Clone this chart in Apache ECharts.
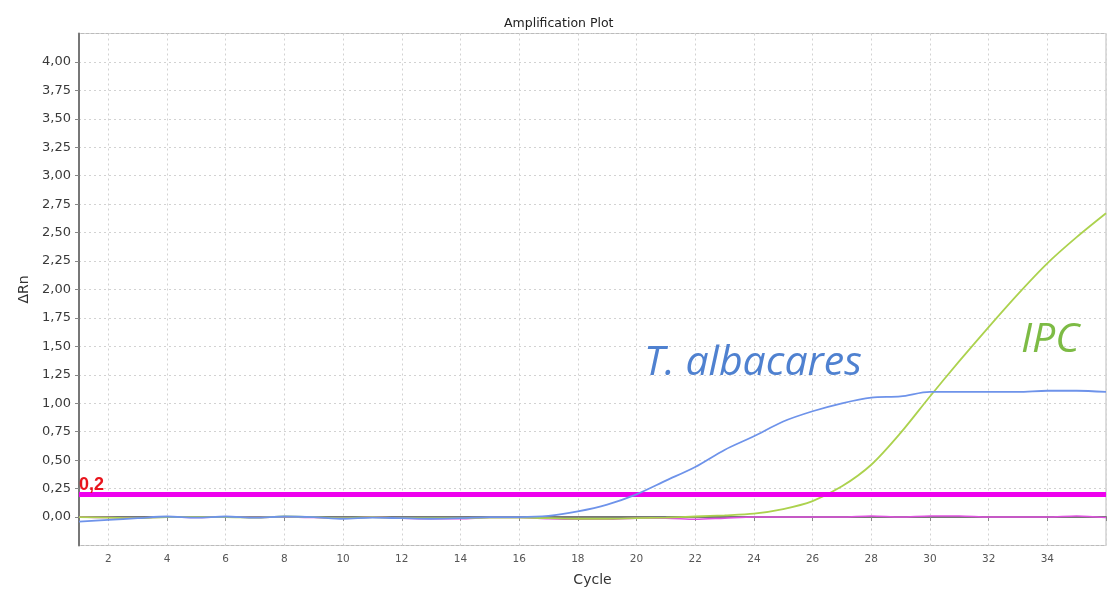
<!DOCTYPE html>
<html><head><meta charset="utf-8">
<script src="https://cdn.jsdelivr.net/npm/echarts@6/dist/echarts.min.js"></script>
<style>html,body{margin:0;padding:0;background:#fff;overflow:hidden}#c{width:1111px;height:591px}</style>
</head><body><div id="c"></div>
<script>
const cycles = ['1','2','3','4','5','6','7','8','9','10','11','12','13','14','15','16','17','18','19','20','21','22','23','24','25','26','27','28','29','30','31','32','33','34','35','36'];
const albacares = [-0.04,-0.025,-0.01,0.005,-0.005,0.005,-0.005,0.005,0,-0.015,-0.005,-0.01,-0.015,-0.01,0,0,0.01,0.05,0.11,0.2,0.32,0.44,0.59,0.71,0.84,0.93,1.0,1.05,1.06,1.1,1.1,1.1,1.1,1.11,1.11,1.1];
const ipc = [0,-0.005,-0.01,0,0,0,-0.005,0.005,0,-0.01,0,-0.01,-0.01,-0.01,-0.005,-0.005,-0.01,-0.015,-0.015,-0.01,-0.005,0.005,0.015,0.03,0.07,0.14,0.27,0.46,0.74,1.06,1.37,1.67,1.96,2.23,2.46,2.67];
const ntc = [0,-0.005,-0.01,0,-0.005,0,-0.005,0,-0.005,-0.01,0,-0.01,-0.015,-0.015,-0.005,-0.005,-0.015,-0.02,-0.02,-0.01,-0.01,-0.02,-0.01,0,0,0,0,0.01,0,0.01,0.01,0,0,0,0.01,-0.005];
const threshold = 0.2;
const thresholdLabel = '0,2';

const chart = echarts.init(document.getElementById('c'));
const evenOnly = (i, v) => Number(v) % 2 === 0;
const evenLabel = (i, v) => Number(v) % 2 === 0 && i < cycles.length - 1;
const F = '"DejaVu Sans", Verdana, sans-serif';
chart.setOption({
  animation: false,
  title: { text: 'Amplification Plot', left: 499, top: 12,
    textStyle: { fontFamily: F, fontSize: 12.5, fontWeight: 'normal', color: '#222' } },
  grid: { left: 79, right: 5, top: 33.5, bottom: 45.5, containLabel: false, outerBoundsMode: 'none',
    show: true, borderColor: '#bbb', borderWidth: 1 },
  xAxis: {
    type: 'category', data: cycles, boundaryGap: false,
    name: 'Cycle', nameLocation: 'middle', nameGap: 28,
    nameTextStyle: { fontFamily: F, fontSize: 14, color: '#333' },
    axisLine: { lineStyle: { color: '#777', width: 2 } },
    axisTick: { show: true, interval: evenOnly, alignWithLabel: true, length: 4, lineStyle: { color: '#888' } },
    axisLabel: { interval: evenLabel, color: '#555', fontFamily: F, fontSize: 10.5, margin: 8 },
    splitLine: { show: true, interval: evenOnly, lineStyle: { color: '#d2d2d2', type: [2, 3] } }
  },
  yAxis: {
    type: 'value', min: -0.25, max: 4.25, interval: 0.25,
    name: 'ΔRn', nameLocation: 'middle', nameGap: 40,
    nameTextStyle: { fontFamily: F, fontSize: 14, color: '#333' },
    axisLine: { show: true, lineStyle: { color: '#777', width: 2 } },
    axisTick: { show: true, length: 4, lineStyle: { color: '#888' } },
    axisLabel: { showMinLabel: false, showMaxLabel: false, color: '#3a3a3a',
      fontFamily: F, fontSize: 13, margin: 8,
      formatter: v => v.toFixed(2).replace('.', ',') },
    splitLine: { show: true, lineStyle: { color: '#d2d2d2', type: [2, 3] } }
  },
  series: [
    { name: 'NTC', type: 'line', data: ntc, smooth: 0.3, showSymbol: false,
      lineStyle: { color: '#e050e0', width: 1.5 }, z: 3 },
    { name: 'IPC', type: 'line', data: ipc, smooth: 0.3, showSymbol: false,
      lineStyle: { color: '#acd24e', width: 1.8 }, z: 4 },
    { name: 'T. albacares', type: 'line', data: albacares, smooth: 0.3, showSymbol: false,
      lineStyle: { color: '#6e93ea', width: 1.8 }, z: 5,
      markLine: { symbol: 'none', silent: true,
        lineStyle: { color: '#ee00ee', width: 5, type: 'solid' },
        label: { show: true, position: 'insideStartTop', formatter: thresholdLabel, distance: [0, 0],
          color: '#e8141c', fontWeight: 'bold', fontSize: 18, fontFamily: 'Liberation Sans Narrow, Liberation Sans, sans-serif' },
        data: [{ yAxis: threshold }] } }
  ],
  graphic: [
    { type: 'text', left: 644, top: 343, z: 10, style: { text: 'T. albacares', fill: '#4f81d0',
      font: 'italic 41px "Open Sans", sans-serif' } },
    { type: 'text', left: 1021, top: 320, z: 10, style: { text: 'IPC', fill: '#7dbb45',
      font: 'italic 41px "Open Sans", sans-serif' } }
  ]
});
</script></body></html>
